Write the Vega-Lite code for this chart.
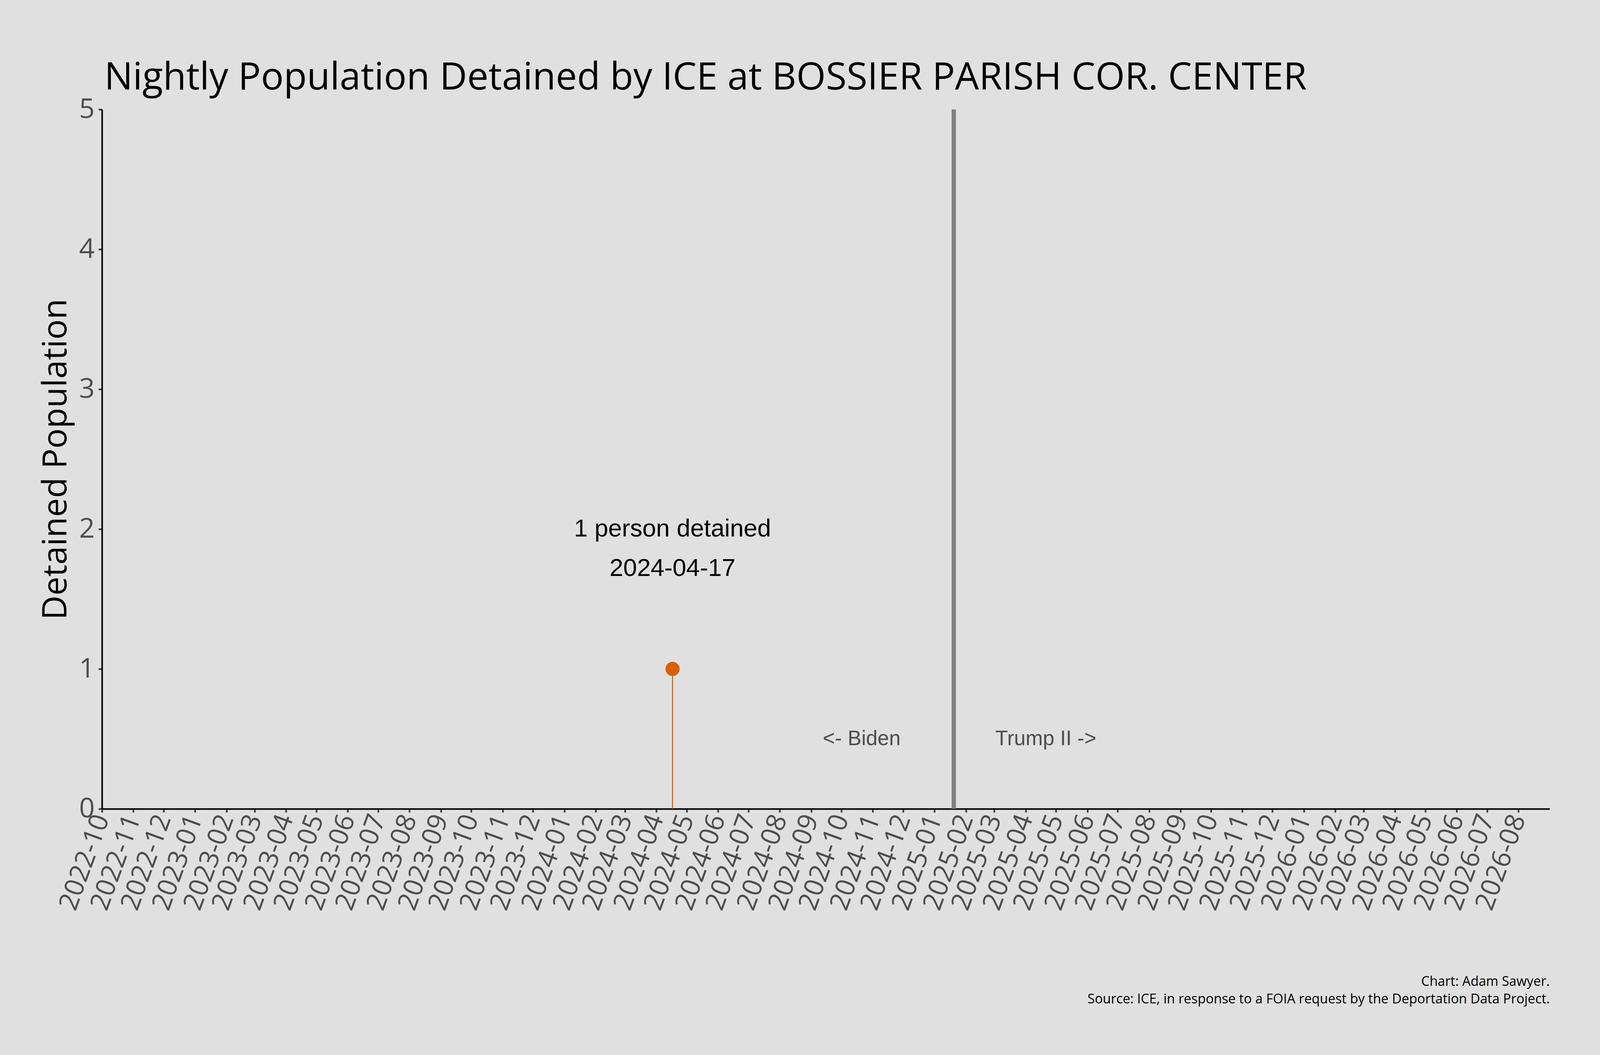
{
  "$schema": "https://vega.github.io/schema/vega-lite/v6.json",
  "width": "container",
  "height": 1790,
  "autosize": {"type": "fit-x", "contains": "padding"},
  "padding": {"left": 100, "top": 151, "right": 129, "bottom": 140},
  "background": "#e0e0e0",
  "config": {
    "view": {"stroke": null},
    "axis": {"grid": false}
  },
  "title": {
    "text": "Nightly Population Detained by ICE at BOSSIER PARISH COR. CENTER",
    "anchor": "start",
    "frame": "group",
    "font": "Open Sans",
    "fontSize": 97,
    "fontWeight": "normal",
    "color": "#000000",
    "baseline": "alphabetic",
    "offset": -81,
    "dx": 6
  },
  "datasets": {
    "detained": [{"date": "2024-04-17", "population": 1}],
    "inauguration": [{"date": "2025-01-20"}],
    "annotation": [{"date": "2024-04-17", "label": "1 person detained\n2024-04-17"}],
    "eras": [
      {"date": "2024-10-21", "label": "<- Biden"},
      {"date": "2025-04-21", "label": "Trump II ->"}
    ]
  },
  "encoding": {
    "x": {
      "field": "date",
      "type": "temporal",
      "scale": {
        "type": "utc",
        "domain": [
          {"year": 2022, "month": 10, "date": 1, "utc": true},
          {"year": 2026, "month": 8, "date": 31, "hours": 23, "utc": true}
        ]
      },
      "axis": {
        "format": "%Y-%m",
        "tickCount": {"interval": "month", "step": 1},
        "labelOverlap": false,
        "labelLimit": 0,
        "labelAngle": -70,
        "labelFont": "Open Sans",
        "labelFontSize": 68,
        "labelColor": "#4d4d4d",
        "labelPadding": 8,
        "labelFlush": false,
        "tickColor": "#333333",
        "tickSize": 9,
        "tickWidth": 4,
        "domainColor": "#000000",
        "domainWidth": 4,
        "title": ["Chart: Adam Sawyer.", "Source: ICE, in response to a FOIA request by the Deportation Data Project."],
        "titleFont": "Open Sans",
        "titleFontSize": 34,
        "titleFontWeight": "normal",
        "titleColor": "#000000",
        "titleAnchor": "end",
        "titleAlign": "right",
        "titleBaseline": "alphabetic",
        "titleLineHeight": 45,
        "titleY": 452
      }
    }
  },
  "layer": [
    {
      "data": {"name": "inauguration"},
      "mark": {"type": "rule", "color": "#808080", "strokeWidth": 11},
      "encoding": {}
    },
    {
      "data": {"name": "detained"},
      "mark": {"type": "rule", "color": "#d95f02", "strokeWidth": 2.7},
      "encoding": {
        "y": {
          "field": "population",
          "type": "quantitative",
          "scale": {"domain": [0, 5], "nice": false},
          "axis": {
            "values": [0, 1, 2, 3, 4, 5],
            "format": "d",
            "labelFont": "Open Sans",
            "labelFontSize": 70,
            "labelColor": "#4d4d4d",
            "labelPadding": 10,
            "tickColor": "#333333",
            "tickSize": 9,
            "tickWidth": 4,
            "domainColor": "#000000",
            "domainWidth": 4,
            "title": "Detained Population",
            "titleFont": "Open Sans",
            "titleFontSize": 86,
            "titleFontWeight": "normal",
            "titleColor": "#000000",
            "titleAngle": -90,
            "titleAlign": "center",
            "titleBaseline": "alphabetic",
            "titleX": -92,
            "titleY": 895
          }
        },
        "y2": {"datum": 0}
      }
    },
    {
      "data": {"name": "detained"},
      "mark": {"type": "circle", "color": "#d95f02", "opacity": 1, "size": 1320},
      "encoding": {
        "y": {"field": "population", "type": "quantitative"}
      }
    },
    {
      "data": {"name": "annotation"},
      "mark": {
        "type": "text",
        "font": "Liberation Sans",
        "fontSize": 63,
        "color": "#000000",
        "align": "center",
        "baseline": "middle",
        "lineBreak": "\n",
        "lineHeight": 101
      },
      "encoding": {
        "y": {"datum": 2},
        "text": {"field": "label", "type": "nominal"}
      }
    },
    {
      "data": {"name": "eras"},
      "mark": {
        "type": "text",
        "font": "Liberation Sans",
        "fontSize": 53,
        "color": "#4d4d4d",
        "align": "center",
        "baseline": "middle"
      },
      "encoding": {
        "y": {"datum": 0.5},
        "text": {"field": "label", "type": "nominal"}
      }
    }
  ]
}
